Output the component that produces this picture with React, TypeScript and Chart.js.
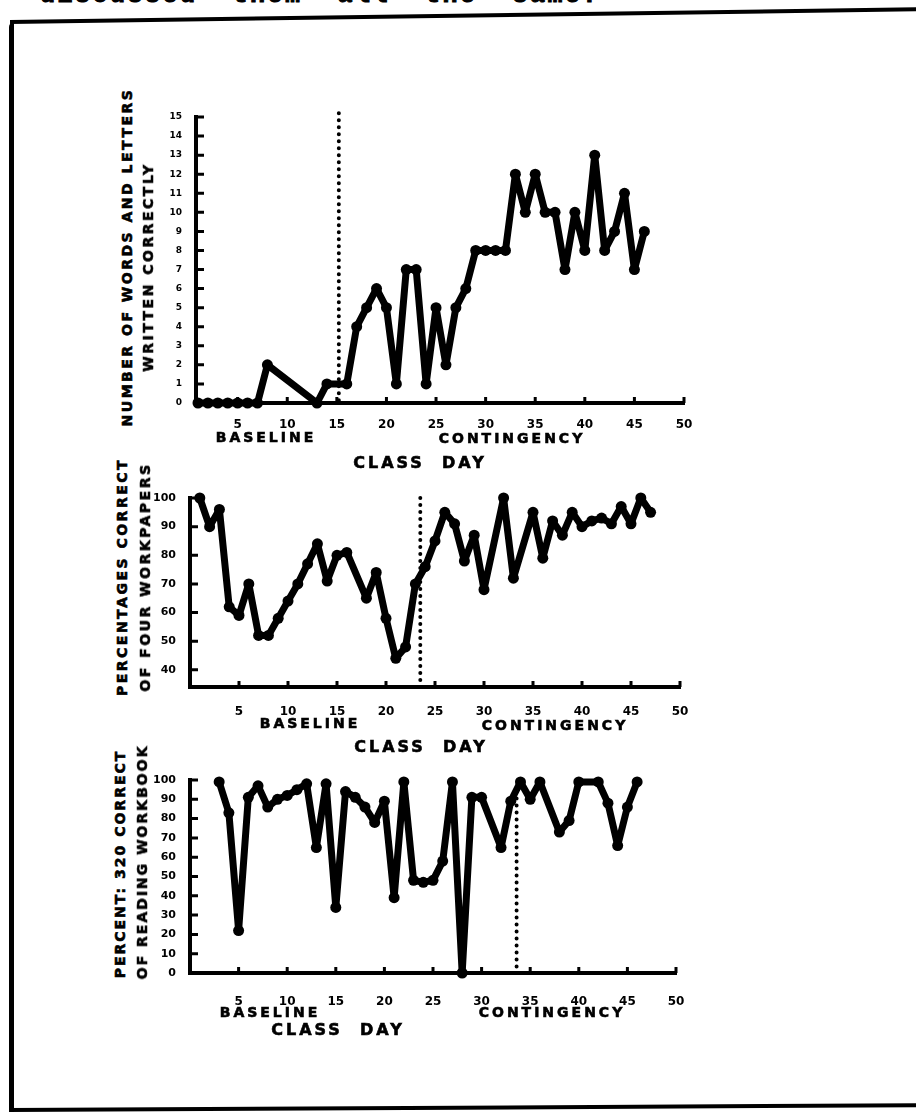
import React, { useEffect, useRef } from "react";
import { Chart, registerables } from "chart.js";

Chart.register(...registerables);

// ---------------- data ----------------
const classDayTicks = [5, 10, 15, 20, 25, 30, 35, 40, 45, 50];

// Panel 1: number of words and letters written correctly
const writingDays = [1, 2, 3, 4, 5, 6, 7, 8, 13, 14, 16, 17, 18, 19, 20, 21, 22, 23, 24, 25, 26, 27, 28, 29, 30, 31, 32, 33, 34, 35, 36, 37, 38, 39, 40, 41, 42, 43, 44, 45, 46];
const writingCorrect = [0, 0, 0, 0, 0, 0, 0, 2, 0, 1, 1, 4, 5, 6, 5, 1, 7, 7, 1, 5, 2, 5, 6, 8, 8, 8, 8, 12, 10, 12, 10, 10, 7, 10, 8, 13, 8, 9, 11, 7, 9];
const writingYTicks = [0, 1, 2, 3, 4, 5, 6, 7, 8, 9, 10, 11, 12, 13, 14, 15];
const writingPhaseDay = 15.2;

// Panel 2: percentages correct of four workpapers
const workpaperDays = [1, 2, 3, 4, 5, 6, 7, 8, 9, 10, 11, 12, 13, 14, 15, 16, 18, 19, 20, 21, 22, 23, 24, 25, 26, 27, 28, 29, 30, 32, 33, 35, 36, 37, 38, 39, 40, 41, 42, 43, 44, 45, 46, 47];
const workpaperPercent = [100, 90, 96, 62, 59, 70, 52, 52, 58, 64, 70, 77, 84, 71, 80, 81, 65, 74, 58, 44, 48, 70, 76, 85, 95, 91, 78, 87, 68, 100, 72, 95, 79, 92, 87, 95, 90, 92, 93, 91, 97, 91, 100, 95];
const workpaperYTicks = [40, 50, 60, 70, 80, 90, 100];
const workpaperPhaseDay = 23.5;

// Panel 3: percent correct of reading workbook
const workbookDays = [3, 4, 5, 6, 7, 8, 9, 10, 11, 12, 13, 14, 15, 16, 17, 18, 19, 20, 21, 22, 23, 24, 25, 26, 27, 28, 29, 30, 32, 33, 34, 35, 36, 38, 39, 40, 42, 43, 44, 45, 46];
const workbookPercent = [99, 83, 22, 91, 97, 86, 90, 92, 95, 98, 65, 98, 34, 94, 91, 86, 78, 89, 39, 99, 48, 47, 48, 58, 99, 0, 91, 91, 65, 89, 99, 90, 99, 73, 79, 99, 99, 88, 66, 86, 99];
const workbookYTicks = [0, 10, 20, 30, 40, 50, 60, 70, 80, 90, 100];
const workbookPhaseDay = 33.6;

const phaseNames = ["BASELINE", "CONTINGENCY"];
const xAxisName = "CLASS  DAY";

const FONT = '"DejaVu Sans", "Liberation Sans", sans-serif';

type PanelProps = {
  days: number[];
  values: number[];
  yTicks: number[];
  xTicks: number[];
  xMin: number;
  xMax: number;
  yMin: number;
  yMax: number;
  phaseDay: number;
  phaseTop: number;
  left: number;
  top: number;
  width: number;
  height: number;
  padTop: number;
  padRight: number;
  yAxisWidth: number;
  xAxisHeight: number;
  yFont: number;
  yPad: number;
  xPad: number;
};

function Panel(p: PanelProps) {
  const ref = useRef<HTMLCanvasElement | null>(null);
  useEffect(() => {
    if (!ref.current) return;
    const decor = {
      id: "decor",
      beforeDatasetsDraw(chart: any) {
        const { ctx, chartArea, scales } = chart;
        const x = scales.x;
        const y = scales.y;
        ctx.save();
        ctx.strokeStyle = "#000";
        ctx.lineWidth = 3;
        ctx.beginPath();
        for (const v of p.xTicks) {
          const px = x.getPixelForValue(v);
          ctx.moveTo(px, chartArea.bottom);
          ctx.lineTo(px, chartArea.bottom - 6);
        }
        for (const v of p.yTicks) {
          const py = y.getPixelForValue(v);
          ctx.moveTo(chartArea.left, py);
          ctx.lineTo(chartArea.left + 8, py);
        }
        ctx.stroke();
        // phase change dotted line
        ctx.beginPath();
        ctx.setLineDash([0, 7]);
        ctx.lineCap = "round";
        ctx.lineWidth = 4;
        const px = x.getPixelForValue(p.phaseDay);
        ctx.moveTo(px, y.getPixelForValue(p.phaseTop));
        ctx.lineTo(px, chartArea.bottom);
        ctx.stroke();
        ctx.restore();
      },
    };
    const chart = new Chart(ref.current, {
      type: "line",
      data: {
        datasets: [
          {
            data: p.days.map((d, i) => ({ x: d, y: p.values[i] })),
            borderColor: "#000",
            backgroundColor: "#000",
            borderWidth: 7,
            pointRadius: 5.5,
            pointHoverRadius: 5.5,
            pointBorderWidth: 0,
            pointBackgroundColor: "#000",
            tension: 0,
            borderJoinStyle: "round",
            borderCapStyle: "round",
            clip: false,
          } as any,
        ],
      },
      options: {
        responsive: false,
        animation: false,
        events: [],
        layout: {
          padding: { top: p.padTop, right: p.padRight, left: 0, bottom: 0 },
          autoPadding: false,
        } as any,
        plugins: { legend: { display: false }, tooltip: { enabled: false } },
        scales: {
          x: {
            type: "linear",
            min: p.xMin,
            max: p.xMax,
            grid: { display: false },
            border: { display: true, color: "#000", width: 4 },
            afterBuildTicks: (s: any) => {
              s.ticks = p.xTicks.map((v) => ({ value: v }));
            },
            afterFit: (s: any) => {
              s.height = p.xAxisHeight;
            },
            ticks: {
              color: "#000",
              font: { family: FONT, size: 12, weight: "bold" },
              padding: p.xPad,
              maxRotation: 0,
              autoSkip: false,
            },
          },
          y: {
            type: "linear",
            min: p.yMin,
            max: p.yMax,
            grid: { display: false },
            border: { display: true, color: "#000", width: 4 },
            afterBuildTicks: (s: any) => {
              s.ticks = p.yTicks.map((v) => ({ value: v }));
            },
            afterFit: (s: any) => {
              s.width = p.yAxisWidth;
            },
            ticks: {
              color: "#000",
              font: { family: FONT, size: p.yFont, weight: "bold" },
              padding: p.yPad,
              autoSkip: false,
            },
          },
        },
      } as any,
      plugins: [decor],
    });
    return () => chart.destroy();
  }, []);
  return (
    <canvas
      ref={ref}
      width={p.width}
      height={p.height}
      style={{ position: "absolute", left: p.left, top: p.top, width: p.width, height: p.height }}
    />
  );
}

function Text({ x, y, text, size, spacing = 2, rotate = false }: { x: number; y: number; text: string; size: number; spacing?: number; rotate?: boolean }) {
  return (
    <div
      style={{
        position: "absolute",
        left: x,
        top: y,
        transform: `translate(-50%, -50%)${rotate ? " rotate(-90deg)" : ""}`,
        whiteSpace: "pre",
        fontFamily: FONT,
        fontWeight: 900,
        fontSize: size,
        letterSpacing: spacing,
        lineHeight: 1,
        color: "#000",
        WebkitTextStroke: "0.6px #000",
      }}
    >
      {text}
    </div>
  );
}

export default function App() {
  return (
    <div style={{ position: "absolute", left: 0, top: 0, width: 916, height: 1114, overflow: "hidden", background: "#fff" }}>
      {/* cut-off line of text above the figure */}
      <div
        style={{
          position: "absolute",
          left: 40,
          top: -17,
          whiteSpace: "pre",
          fontFamily: '"Liberation Mono", monospace',
          fontWeight: 700,
          fontSize: 25,
          letterSpacing: 2.5,
          color: "#000",
          lineHeight: 1,
          WebkitTextStroke: "1px #000",
        }}
      >
        {"discussed  them  all  the  same?"}
      </div>
      {/* frame */}
      <div style={{ position: "absolute", left: 9, top: 22, width: 5, height: 1090, background: "#000", borderTopLeftRadius: 6 }} />
      <div style={{ position: "absolute", left: 10, top: 20, width: 920, height: 4, background: "#000", transformOrigin: "0 50%", transform: "rotate(-0.8deg)" }} />
      <div style={{ position: "absolute", left: 9, top: 1108, width: 912, height: 4, background: "#000", transformOrigin: "0 50%", transform: "rotate(-0.3deg)" }} />

      {/* Panel 1 */}
      <Panel
        days={writingDays}
        values={writingCorrect}
        yTicks={writingYTicks}
        xTicks={classDayTicks}
        xMin={0.8}
        xMax={50}
        yMin={0}
        yMax={15}
        phaseDay={writingPhaseDay}
        phaseTop={15.2}
        left={140}
        top={100}
        width={560}
        height={340}
        padTop={17}
        padRight={16}
        yAxisWidth={56}
        xAxisHeight={37}
        yFont={9}
        yPad={6}
        xPad={7}
      />
      <Text x={127} y={257} text="NUMBER OF WORDS AND LETTERS" size={14} spacing={2.5} rotate />
      <Text x={148} y={267} text="WRITTEN CORRECTLY" size={14} spacing={2.5} rotate />
      <Text x={266} y={437} text={phaseNames[0]} size={14} spacing={3} />
      <Text x={512} y={438} text={phaseNames[1]} size={14} spacing={3} />
      <Text x={420} y={463} text={xAxisName} size={16} spacing={3} />

      {/* Panel 2 */}
      <Panel
        days={workpaperDays}
        values={workpaperPercent}
        yTicks={workpaperYTicks}
        xTicks={classDayTicks}
        xMin={0}
        xMax={50}
        yMin={34}
        yMax={100}
        phaseDay={workpaperPhaseDay}
        phaseTop={100}
        left={130}
        top={480}
        width={570}
        height={250}
        padTop={18}
        padRight={20}
        yAxisWidth={60}
        xAxisHeight={43}
        yFont={11}
        yPad={6}
        xPad={10}
      />
      <Text x={122} y={577} text="PERCENTAGES CORRECT" size={14} spacing={2.5} rotate />
      <Text x={145} y={577} text="OF FOUR WORKPAPERS" size={14} spacing={2.5} rotate />
      <Text x={310} y={723} text={phaseNames[0]} size={14} spacing={3} />
      <Text x={555} y={725} text={phaseNames[1]} size={14} spacing={3} />
      <Text x={421} y={747} text={xAxisName} size={16} spacing={3} />

      {/* Panel 3 */}
      <Panel
        days={workbookDays}
        values={workbookPercent}
        yTicks={workbookYTicks}
        xTicks={classDayTicks}
        xMin={0}
        xMax={50}
        yMin={0}
        yMax={100}
        phaseDay={workbookPhaseDay}
        phaseTop={94}
        left={130}
        top={760}
        width={570}
        height={250}
        padTop={20}
        padRight={24}
        yAxisWidth={60}
        xAxisHeight={37}
        yFont={11}
        yPad={6}
        xPad={14}
      />
      <Text x={120} y={864} text="PERCENT: 320 CORRECT" size={14} spacing={2} rotate />
      <Text x={142} y={862} text="OF READING WORKBOOK" size={14} spacing={2} rotate />
      <Text x={270} y={1012} text={phaseNames[0]} size={14} spacing={3} />
      <Text x={552} y={1012} text={phaseNames[1]} size={14} spacing={3} />
      <Text x={338} y={1030} text={xAxisName} size={16} spacing={3} />
    </div>
  );
}
